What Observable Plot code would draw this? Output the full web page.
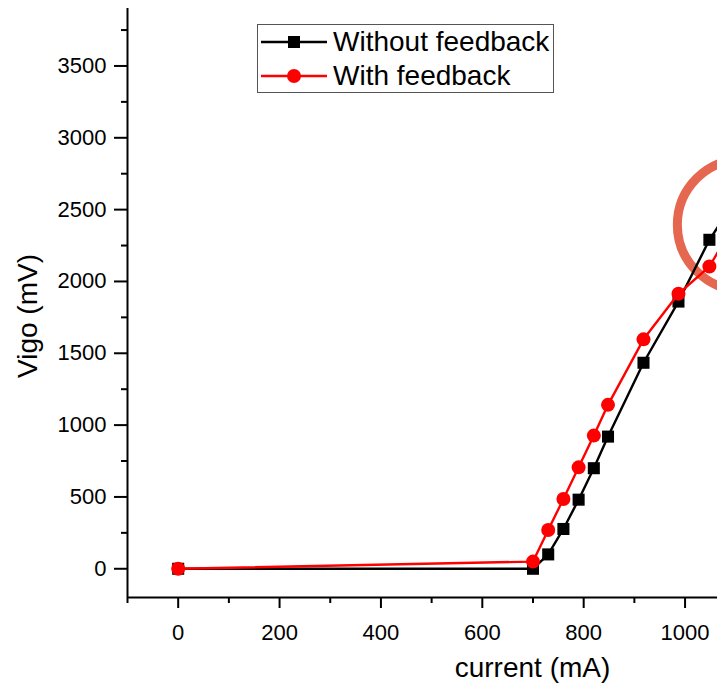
<!DOCTYPE html>
<html>
<head>
<meta charset="utf-8">
<script src="https://cdn.jsdelivr.net/npm/d3@7"></script>
<script src="https://cdn.jsdelivr.net/npm/@observablehq/plot@0.6"></script>
<style>
  html, body { margin: 0; padding: 0; background: white; overflow: hidden; }
  #wrap { position: relative; width: 717px; height: 690px; overflow: hidden; font-family: "Liberation Sans", Arial, sans-serif; }
  .legend { position: absolute; left: 257px; top: 24px; width: 295px; height: 67px; border: 1px solid #555; background: white; }
  .row { position: relative; height: 34px; }
  .row svg { position: absolute; left: 1px; top: 0; }
  .row span { position: absolute; left: 75px; top: 0; line-height: 34px; font-size: 28px; color: #000; white-space: nowrap; }
</style>
</head>
<body>
<div id="wrap"></div>
<script>
// ---- data ----
const current   = [0, 700, 730, 760, 790, 820, 848, 918, 987, 1048, 1110];
const withoutFb = [0, 0, 100, 277, 481, 700, 920, 1434, 1860, 2290, 2622];
const withFb    = [0, 50, 270, 486, 706, 927, 1141, 1597, 1914, 2104, 2473];
const seriesNames = ["Without feedback", "With feedback"];
const xMajorTicks = [0, 200, 400, 600, 800, 1000];
const xMinorTicks = [-100, 100, 300, 500, 700, 900];
const yMajorTicks = [0, 500, 1000, 1500, 2000, 2500, 3000, 3500];
const yMinorTicks = [250, 750, 1250, 1750, 2250, 2750, 3250, 3750];
const annotX = [1114];
const annotY = [2394];

const rowsWithout = current.map((c, i) => ({x: c, y: withoutFb[i]}));
const rowsWith = current.map((c, i) => ({x: c, y: withFb[i]}));
const annot = annotX.map((x, i) => ({x, y: annotY[i]}));

const plot = Plot.plot({
  width: 717,
  height: 690,
  marginLeft: 127,
  marginRight: 0,
  marginTop: 8,
  marginBottom: 93,
  style: {fontFamily: '"Liberation Sans", Arial, sans-serif', background: "white", color: "black"},
  x: {domain: [-100, 1064]},
  y: {domain: [-200, 3900]},
  marks: [
    // axes
    Plot.axisX({ticks: xMajorTicks, tickSize: 11, tickPadding: 16, fontSize: 22, strokeWidth: 2, label: null, tickFormat: d => String(d)}),
    Plot.axisX({ticks: xMinorTicks, tickSize: 6, text: null, strokeWidth: 2, label: null}),
    Plot.axisY({ticks: yMajorTicks, tickSize: 13, tickPadding: 8, fontSize: 22, strokeWidth: 2, label: null, tickFormat: d => String(d)}),
    Plot.axisY({ticks: yMinorTicks, tickSize: 6, text: null, strokeWidth: 2, label: null}),
    Plot.ruleX([-100], {stroke: "black", strokeWidth: 2}),
    Plot.ruleY([-200], {stroke: "black", strokeWidth: 2}),
    Plot.text(["Vigo (mV)"], {frameAnchor: "left", dx: -99, dy: 13, rotate: -90, textAnchor: "middle", lineAnchor: "middle", fontSize: 28, fill: "black"}),
    Plot.text(["current (mA)"], {frameAnchor: "bottom", dx: 110, dy: 71, textAnchor: "middle", lineAnchor: "middle", fontSize: 28, fill: "black"}),
    // annotation circle
    Plot.dot(annot, {x: "x", y: "y", r: 65.5, stroke: "#e5674f", strokeWidth: 9, fill: "none", clip: true}),
    // series
    Plot.line(rowsWithout, {x: "x", y: "y", stroke: "black", strokeWidth: 2.4, clip: true}),
    Plot.dot(rowsWithout, {x: "x", y: "y", symbol: "square", r: 6.8, fill: "black", clip: true}),
    Plot.line(rowsWith, {x: "x", y: "y", stroke: "#ff0000", strokeWidth: 2.4, clip: true}),
    Plot.dot(rowsWith, {x: "x", y: "y", symbol: "circle", r: 7, fill: "#ff0000", clip: true})
  ]
});

const wrap = document.getElementById("wrap");
wrap.appendChild(plot);

// legend
const legend = document.createElement("div");
legend.className = "legend";
const legendStyles = [
  {color: "black", marker: "square"},
  {color: "#ff0000", marker: "circle"}
];
seriesNames.forEach((name, i) => {
  const row = document.createElement("div");
  row.className = "row";
  const st = legendStyles[i];
  const markerSvg = st.marker === "square"
    ? `<rect x="29" y="11" width="12" height="12" fill="${st.color}"/>`
    : `<circle cx="35" cy="17" r="7" fill="${st.color}"/>`;
  row.innerHTML = `<svg width="70" height="34"><line x1="2" x2="68" y1="17" y2="17" stroke="${st.color}" stroke-width="2.4"/>${markerSvg}</svg><span>${name}</span>`;
  legend.appendChild(row);
});
wrap.appendChild(legend);
</script>
</body>
</html>
